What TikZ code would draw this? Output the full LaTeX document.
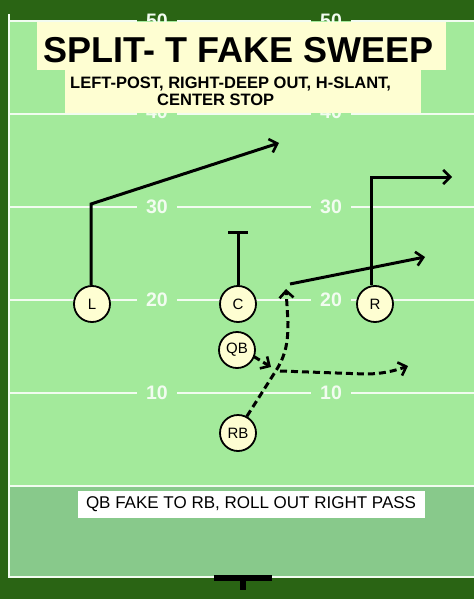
\documentclass[tikz,border=0pt]{standalone}
\usepackage{fontspec}
\setmainfont{Liberation Sans}
\usetikzlibrary{arrows.meta}
\definecolor{dkgreen}{HTML}{2A6414}
\definecolor{fieldgreen}{HTML}{A3EA9B}
\definecolor{ezgreen}{HTML}{88C98B}
\definecolor{cream}{HTML}{FEFED2}
\definecolor{yardwhite}{HTML}{F2FCF0}
\tikzset{
  player/.style={circle, draw=black, line width=1.8pt, fill=cream, minimum size=36pt, inner sep=0pt, font=\fontsize{15}{15}\selectfont},
  route/.style={line width=3pt, black},
  droute/.style={line width=3pt, black, dash pattern=on 7pt off 4pt},
  tip/.style={-{Straight Barb[length=7pt,width=14pt,line width=2.6pt]}},
  yardline/.style={line width=2.8pt, yardwhite},
  yardnum/.style={text=yardwhite, font=\fontsize{19.5}{19.5}\selectfont\bfseries, inner sep=0pt},
}
\begin{document}
\begin{tikzpicture}[x=1pt,y=-1pt]
\useasboundingbox (0,0) rectangle (474,599);
% background
\fill[dkgreen] (0,0) rectangle (474,599);
\fill[fieldgreen] (10,21) rectangle (474,486);
\fill[ezgreen] (10,486) rectangle (474,577);
% sidelines
\draw[line width=2.6pt, yardwhite] (9,14) -- (9,578);
\draw[yardline] (9,577) -- (474,577);
\draw[yardline] (9,486) -- (474,486);
% yard lines with numbers
\foreach \yy/\ny/\num in {21/21/50,114/112/40,207/207/30,300/300/20,393/393/10}{
  \draw[yardline] (10,\yy) -- (137,\yy);
  \draw[yardline] (177,\yy) -- (311,\yy);
  \draw[yardline] (351,\yy) -- (474,\yy);
  \node[yardnum] (n1-\num) at (157,\ny) {\num};
  \node[yardnum] (n2-\num) at (331,\ny) {\num};
}
% title boxes
\fill[cream] (37,22) rectangle (446,70);
\fill[cream] (65,70) rectangle (421,113);
\node[anchor=base, inner sep=0pt, font=\fontsize{36}{36}\selectfont\bfseries] (title) at (238.5,63) {SPLIT- T FAKE SWEEP};
\node[anchor=base west, inner sep=0pt, font=\fontsize{16.5}{16.5}\selectfont\bfseries] (sub1) at (70,89) {LEFT-POST, RIGHT-DEEP OUT, H-SLANT,};
\node[anchor=base west, inner sep=0pt, font=\fontsize{16.5}{16.5}\selectfont\bfseries] (sub2) at (157,106) {CENTER STOP};
% end zone label
\fill[white] (78,491) rectangle (425,518);
\node[inner sep=0pt, font=\fontsize{17}{17}\selectfont] (caption) at (251,504.5) {QB FAKE TO RB, ROLL OUT RIGHT PASS};
% T marker
\fill[black] (214,575) rectangle (272,581);
\fill[black] (240,575) rectangle (246,590);
% players
\node[player] (L) at (92,304) {L};
\node[player] (C) at (238,304) {C};
\node[player] (R) at (375,304) {R};
\node[player] (QB) at (237,350) {QB};
\node[player] (RB) at (238,433) {RB};
% coordinates
\coordinate (Lbend) at (91,204);
\coordinate (Lend) at (279,143);
\coordinate (Ctop) at (238,232);
\coordinate (Rbend) at (371,177);
\coordinate (Rend) at (452,177);
\coordinate (Hstart) at (290,284);
\coordinate (Hend) at (425,257);
\coordinate (RBmid) at (277,369);
\coordinate (RBend) at (286,289);
\coordinate (QBend) at (271,367);
\coordinate (Ostart) at (280,371);
\coordinate (Oend) at (408,366);
% routes
\draw[route, tip] (L.north -| Lbend) -- (Lbend) -- (Lend);
\draw[route] (C.north) -- (Ctop);
\draw[route] ([xshift=-10pt]Ctop) -- ([xshift=10pt]Ctop);
\draw[route, tip] (R.north -| Rbend) -- (Rbend) -- (Rend);
\draw[route, tip] (Hstart) -- (Hend);
% dashed
\draw[droute, tip] (RB.62) -- (RBmid) .. controls (286,354) and (288,342) .. (288,322) -- (RBend);
\draw[droute, tip] ([xshift=-1pt]QB.-20) -- (QBend);
\draw[droute, tip] (Ostart) -- (365,374) .. controls (382,374) and (394,371) .. (Oend);
\end{tikzpicture}
\end{document}
